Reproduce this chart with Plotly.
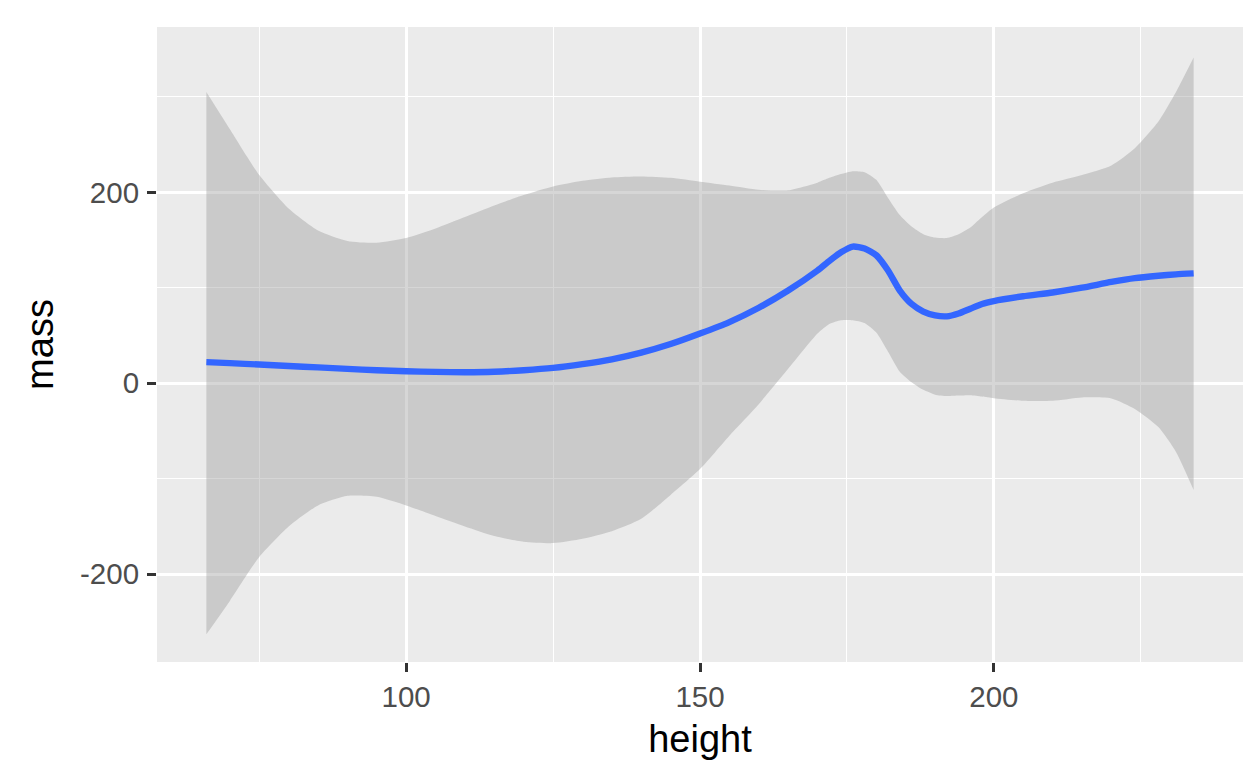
import plotly.graph_objects as go

height = [66, 70, 75, 80, 85, 90, 95, 100, 105, 110, 115, 120, 125, 130, 135, 140, 145,
          150, 155, 160, 165, 170, 172, 174, 176, 178, 180, 182, 184, 186, 188, 190, 192,
          194, 196, 198, 200, 205, 210, 215, 220, 224, 228, 231, 234]

mass_fit = [22, 21, 19.5, 18, 16.5, 15, 13.5, 12.5, 11.8, 11.5, 12, 13.6, 16, 20, 25, 32, 41,
            52, 64, 79, 97, 118, 128, 137, 143, 141, 134, 118, 97, 83, 75, 71, 70,
            73, 78, 83, 86, 91, 95, 100, 106, 110, 112.5, 114, 115]

mass_upper = [305, 266, 218, 183, 160, 149, 147, 152, 162, 174, 186, 197, 206, 212, 215.5, 216.5, 215,
              211, 207, 202.5, 202, 210, 215, 219, 222, 221, 213, 194, 176, 164, 156, 152.5, 152,
              156, 163, 174, 184, 199, 210, 218, 228, 246, 274, 305, 341]

mass_lower = [-263, -228, -182, -150, -128, -118, -119, -128, -139, -150, -160, -166, -167.5, -163, -155, -142, -117,
              -90, -55, -22, 15, 52, 62, 66, 66, 63, 53, 33, 12, 1, -7, -12, -13.5,
              -13, -12.6, -14, -15.7, -18.5, -18.5, -15, -16, -27, -46, -72, -112]

major_x = [100, 150, 200]
minor_x = [75, 125, 175, 225]
major_y = [-200, 0, 200]
minor_y = [-100, 100, 300]

fig = go.Figure()
fig.add_trace(go.Scatter(x=height, y=mass_lower, mode="lines",
                         line=dict(width=0, shape="spline", smoothing=0.6),
                         hoverinfo="skip", showlegend=False))
fig.add_trace(go.Scatter(x=height, y=mass_upper, mode="lines",
                         line=dict(width=0, shape="spline", smoothing=0.6),
                         fill="tonexty", fillcolor="rgba(153,153,153,0.4)",
                         hoverinfo="skip", showlegend=False))
fig.add_trace(go.Scatter(x=height, y=mass_fit, mode="lines",
                         line=dict(color="#3366FF", width=6.4, shape="spline", smoothing=0.6),
                         showlegend=False))

font_family = "Liberation Sans, Arial, sans-serif"
tick_font = dict(size=29.5, color="#4D4D4D", family=font_family)
title_font = dict(size=38, color="black", family=font_family)

fig.update_layout(
    width=1251, height=780,
    paper_bgcolor="white",
    plot_bgcolor="#EBEBEB",
    margin=dict(l=149, r=16, t=19, b=126, autoexpand=False),
    font=dict(family=font_family),
    xaxis=dict(
        range=[57.6, 242.4],
        tickmode="array", tickvals=major_x, ticktext=[str(v) for v in major_x],
        showgrid=True, gridcolor="white", gridwidth=2.7,
        minor=dict(tickmode="array", tickvals=minor_x, showgrid=True,
                   gridcolor="white", gridwidth=1.35, ticks=""),
        zeroline=False, showline=False,
        ticks="outside", ticklen=9, tickwidth=2.7, tickcolor="#333333",
        tickfont=tick_font,
        ticklabelstandoff=0,
        title=dict(text="height", font=title_font, standoff=12),
        automargin=False,
    ),
    yaxis=dict(
        range=[-292, 373],
        tickmode="array", tickvals=major_y, ticktext=[str(v) for v in major_y],
        showgrid=True, gridcolor="white", gridwidth=2.7,
        minor=dict(tickmode="array", tickvals=minor_y, showgrid=True,
                   gridcolor="white", gridwidth=1.35, ticks=""),
        zeroline=False, showline=False,
        ticks="outside", ticklen=9, tickwidth=2.7, tickcolor="#333333",
        tickfont=tick_font,
        ticklabelstandoff=2,
        title=dict(text="mass", font=title_font, standoff=14),
        automargin=False,
    ),
)

fig.write_html("out.html")
